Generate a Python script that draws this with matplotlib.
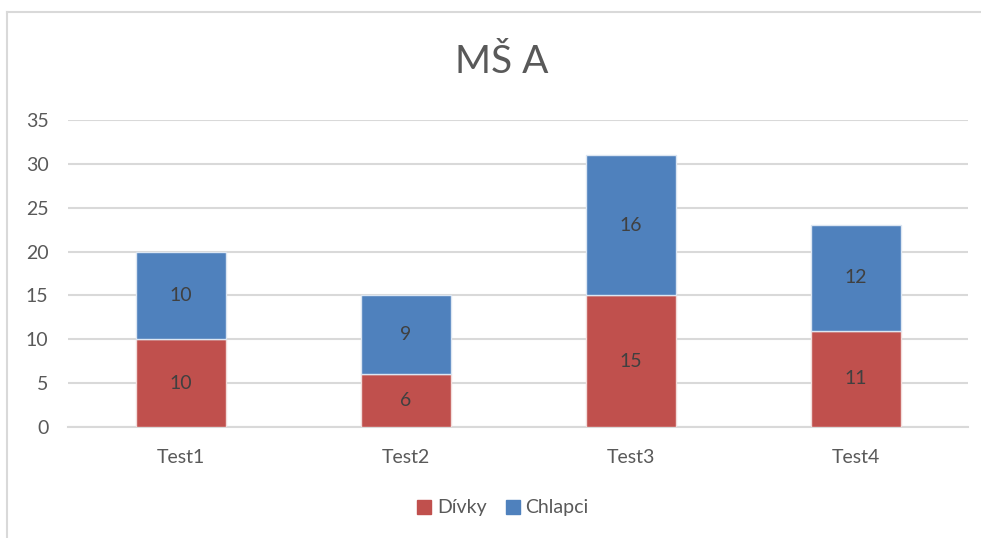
import matplotlib.pyplot as plt
import numpy as np
from matplotlib.lines import Line2D

categories = ["Test1", "Test2", "Test3", "Test4"]
divky = [10, 6, 15, 11]
chlapci = [10, 9, 16, 12]
yticks = [0, 5, 10, 15, 20, 25, 30, 35]
title = "MŠ A"
series_names = ["Dívky", "Chlapci"]

plt.rcParams['font.family'] = ['Lato', 'DejaVu Sans']
red = "#C0504D"
blue = "#4F81BD"
txt = "#595959"

fig = plt.figure(figsize=(9.81, 5.38), dpi=100)
ax = fig.add_axes([68/981, 111/538, 900/981, 307/538])

x = np.arange(len(categories))
w = 0.4
ax.bar(x, divky, width=w, color=red, edgecolor="#F2DCDB", linewidth=1.0, zorder=3)
ax.bar(x, chlapci, width=w, bottom=divky, color=blue, edgecolor="#DCE6F2", linewidth=1.0, zorder=3)

for i in range(len(categories)):
    ax.text(x[i], divky[i] / 2, str(divky[i]), ha="center", va="center",
            fontsize=14, color="#404040", zorder=4)
    ax.text(x[i], divky[i] + chlapci[i] / 2, str(chlapci[i]), ha="center", va="center",
            fontsize=14, color="#404040", zorder=4)

ax.set_xlim(-0.5, len(categories) - 0.5)
ax.set_ylim(0, 35)
ax.set_yticks(yticks)
ax.set_yticklabels([str(t) for t in yticks])
ax.set_xticks(x)
ax.set_xticklabels(categories)
ax.tick_params(axis="both", length=0, labelsize=14, colors=txt)
ax.tick_params(axis="y", pad=14)
ax.tick_params(axis="x", pad=16)
ax.grid(axis="y", color="#D9D9D9", linewidth=1.5, zorder=0)
for s in ["top", "right", "left"]:
    ax.spines[s].set_visible(False)
ax.spines["bottom"].set_color("#D9D9D9")
ax.spines["bottom"].set_linewidth(1.5)

fig.text(502/981, 1 - 62/538, title, ha="center", va="center", fontsize=28, color=txt)

handles = [plt.Rectangle((0, 0), 1, 1, color=red), plt.Rectangle((0, 0), 1, 1, color=blue)]
fig.legend(handles, series_names, loc="center", bbox_to_anchor=(503/981, 1 - 508/538),
           ncol=2, frameon=False, fontsize=14, labelcolor=txt, handlelength=0.7,
           handleheight=0.7, handletextpad=0.3, columnspacing=1.0)

# chart border (top and left)
fig.add_artist(Line2D([7/981, 1], [1 - 12/538, 1 - 12/538], color="#D9D9D9", linewidth=1.5,
                      transform=fig.transFigure))
fig.add_artist(Line2D([7/981, 7/981], [0, 1 - 12/538], color="#D9D9D9", linewidth=1.5,
                      transform=fig.transFigure))

fig.savefig("out.png", dpi=100)
